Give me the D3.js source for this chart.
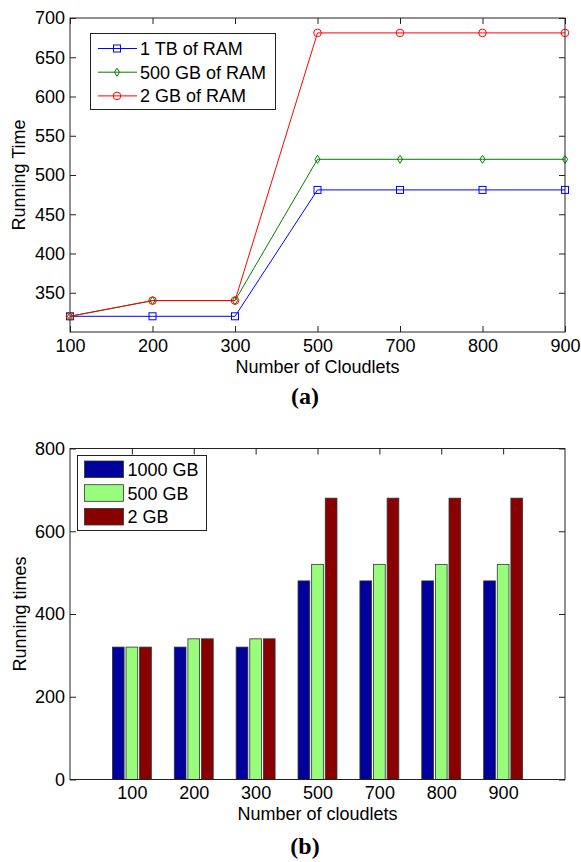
<!DOCTYPE html>
<html>
<head>
<meta charset="utf-8">
<script src="https://cdn.jsdelivr.net/npm/d3@7"></script>
<style>
  body { margin: 0; background: #fff; }
  svg text { font-family: "Liberation Sans", Arial, sans-serif; fill: #000; }
  .caption { font-family: "Liberation Serif", "Times New Roman", serif !important; font-weight: bold; }
</style>
</head>
<body>
<svg id="chart" width="581" height="862"></svg>
<script>
// Data
var cloudlets = ["100", "200", "300", "500", "700", "800", "900"];
var tbRam = [320, 320, 320, 481, 481, 481, 481];
var gb500Ram = [320, 340, 340, 520, 520, 520, 520];
var gb2Ram = [320, 340, 340, 681, 681, 681, 681];

var barSeries = ["1000 GB", "500 GB", "2 GB"];
var bar1000 = [320, 320, 320, 480, 480, 480, 480];
var bar500 = [320, 340, 340, 520, 520, 520, 520];
var bar2 = [320, 340, 340, 680, 680, 680, 680];

var lineTicks = [350, 400, 450, 500, 550, 600, 650, 700];
var barTicks = [0, 200, 400, 600, 800];

var svg = d3.select("#chart");
var axisColor = "#222";

function styleAxis(g) {
    g.select(".domain").remove();
    g.selectAll(".tick line").attr("stroke", axisColor);
    g.selectAll(".tick text").attr("font-size", 18).attr("fill", "#000")
        .style("font-family", "'Liberation Sans', Arial, sans-serif");
}

// ---------- (a) line chart ----------
var left = 70, right = 565;
var topA = 18, bottomA = 332;

var xA = d3.scalePoint().domain(cloudlets).range([left, right]);
var yA = d3.scaleLinear().domain([300, 700]).range([bottomA, topA]);

var gA = svg.append("g");

gA.append("g")
    .attr("transform", "translate(0," + bottomA + ")")
    .call(d3.axisBottom(xA).tickSize(-6).tickPadding(7))
    .call(styleAxis);
gA.append("g")
    .attr("transform", "translate(0," + topA + ")")
    .call(d3.axisTop(xA).tickSize(-6).tickFormat(""))
    .call(styleAxis);
gA.append("g")
    .attr("transform", "translate(" + left + ",0)")
    .call(d3.axisLeft(yA).tickValues(lineTicks).tickSize(-6).tickPadding(5))
    .call(styleAxis);
gA.append("g")
    .attr("transform", "translate(" + right + ",0)")
    .call(d3.axisRight(yA).tickValues(lineTicks).tickSize(-6).tickFormat(""))
    .call(styleAxis);

gA.append("rect")
    .attr("x", left).attr("y", topA)
    .attr("width", right - left).attr("height", bottomA - topA)
    .attr("fill", "none").attr("stroke", axisColor).attr("stroke-width", 1);

var lineSeries = [
    { name: "1 TB of RAM", values: tbRam, color: "#0000ff", marker: "square" },
    { name: "500 GB of RAM", values: gb500Ram, color: "#008000", marker: "diamond" },
    { name: "2 GB of RAM", values: gb2Ram, color: "#ff0000", marker: "circle" }
];

var line = d3.line()
    .x(function(d, i) { return xA(cloudlets[i]); })
    .y(function(d) { return yA(d); });

function drawMarker(g, type, cx, cy, color) {
    if (type === "square") {
        g.append("rect").attr("x", cx - 3.5).attr("y", cy - 3.5)
            .attr("width", 7).attr("height", 7)
            .attr("fill", "none").attr("stroke", color);
    } else if (type === "diamond") {
        g.append("path")
            .attr("d", "M" + cx + "," + (cy - 4) + "L" + (cx + 2.6) + "," + cy +
                "L" + cx + "," + (cy + 4) + "L" + (cx - 2.6) + "," + cy + "Z")
            .attr("fill", "none").attr("stroke", color);
    } else {
        g.append("circle").attr("cx", cx).attr("cy", cy).attr("r", 3.8)
            .attr("fill", "none").attr("stroke", color);
    }
}

lineSeries.forEach(function(s) {
    gA.append("path")
        .datum(s.values)
        .attr("d", line)
        .attr("fill", "none")
        .attr("stroke", s.color)
        .attr("stroke-width", 1);
    s.values.forEach(function(v, i) {
        drawMarker(gA, s.marker, xA(cloudlets[i]), yA(v), s.color);
    });
});

// legend (a)
var legA = gA.append("g");
legA.append("rect")
    .attr("x", 90.5).attr("y", 33.5).attr("width", 185).attr("height", 76)
    .attr("fill", "#fff").attr("stroke", axisColor);
lineSeries.forEach(function(s, i) {
    var cy = 48.5 + i * 23.7;
    legA.append("line")
        .attr("x1", 98).attr("x2", 137).attr("y1", cy).attr("y2", cy)
        .attr("stroke", s.color);
    drawMarker(legA, s.marker, 117, cy, s.color);
    legA.append("text")
        .attr("x", 140).attr("y", cy + 6.5)
        .attr("font-size", 18)
        .text(s.name);
});

gA.append("text")
    .attr("x", (left + right) / 2).attr("y", 373)
    .attr("text-anchor", "middle").attr("font-size", 18)
    .text("Number of Cloudlets");
gA.append("text")
    .attr("transform", "translate(25," + ((topA + bottomA) / 2) + ") rotate(-90)")
    .attr("text-anchor", "middle").attr("font-size", 18)
    .text("Running Time");
gA.append("text")
    .attr("class", "caption")
    .attr("x", 305).attr("y", 404)
    .attr("text-anchor", "middle").attr("font-size", 24)
    .text("(a)");

// ---------- (b) grouped bar chart ----------
var topB = 448.5, bottomB = 779.5;

var xB = d3.scaleLinear().domain([0, 8]).range([left, right]);
var yB = d3.scaleLinear().domain([0, 800]).range([bottomB, topB]);
var unit = xB(1) - xB(0);
var inner = d3.scaleBand().domain(barSeries)
    .range([-0.33 * unit, 0.33 * unit])
    .paddingInner(0.14).paddingOuter(0.07);

var tickPos = cloudlets.map(function(c, i) { return i + 1; });

var gB = svg.append("g");

gB.append("g")
    .attr("transform", "translate(0," + bottomB + ")")
    .call(d3.axisBottom(xB).tickValues(tickPos)
        .tickFormat(function(d) { return cloudlets[d - 1]; })
        .tickSize(-6).tickPadding(7))
    .call(styleAxis);
gB.append("g")
    .attr("transform", "translate(0," + topB + ")")
    .call(d3.axisTop(xB).tickValues(tickPos).tickSize(-6).tickFormat(""))
    .call(styleAxis);
gB.append("g")
    .attr("transform", "translate(" + left + ",0)")
    .call(d3.axisLeft(yB).tickValues(barTicks).tickSize(-6).tickPadding(5))
    .call(styleAxis);
gB.append("g")
    .attr("transform", "translate(" + right + ",0)")
    .call(d3.axisRight(yB).tickValues(barTicks).tickSize(-6).tickFormat(""))
    .call(styleAxis);

var barColors = { "1000 GB": "#00009c", "500 GB": "#97fd7b", "2 GB": "#880000" };
var barValues = { "1000 GB": bar1000, "500 GB": bar500, "2 GB": bar2 };

barSeries.forEach(function(s) {
    gB.selectAll(null)
        .data(barValues[s])
        .enter().append("rect")
        .attr("x", function(d, i) { return xB(i + 1) + inner(s); })
        .attr("y", function(d) { return yB(d); })
        .attr("width", inner.bandwidth())
        .attr("height", function(d) { return yB(0) - yB(d); })
        .attr("fill", barColors[s])
        .attr("stroke", "#333")
        .attr("stroke-width", 0.8);
});

gB.append("rect")
    .attr("x", left).attr("y", topB)
    .attr("width", right - left).attr("height", bottomB - topB)
    .attr("fill", "none").attr("stroke", axisColor).attr("stroke-width", 1);

// legend (b)
var legB = gB.append("g");
legB.append("rect")
    .attr("x", 77.5).attr("y", 455.5).attr("width", 129).attr("height", 75)
    .attr("fill", "#fff").attr("stroke", axisColor);
barSeries.forEach(function(s, i) {
    var cy = 469.3 + i * 23.7;
    legB.append("rect")
        .attr("x", 84.5).attr("y", cy - 8.3).attr("width", 39).attr("height", 16.6)
        .attr("fill", barColors[s]).attr("stroke", "#333").attr("stroke-width", 0.8);
    legB.append("text")
        .attr("x", 127.5).attr("y", cy + 6.5)
        .attr("font-size", 18)
        .text(s);
});

gB.append("text")
    .attr("x", (left + right) / 2).attr("y", 820)
    .attr("text-anchor", "middle").attr("font-size", 18)
    .text("Number of cloudlets");
gB.append("text")
    .attr("transform", "translate(26," + ((topB + bottomB) / 2) + ") rotate(-90)")
    .attr("text-anchor", "middle").attr("font-size", 18)
    .text("Running times");
gB.append("text")
    .attr("class", "caption")
    .attr("x", 305).attr("y", 854)
    .attr("text-anchor", "middle").attr("font-size", 24)
    .text("(b)");
</script>
</body>
</html>
